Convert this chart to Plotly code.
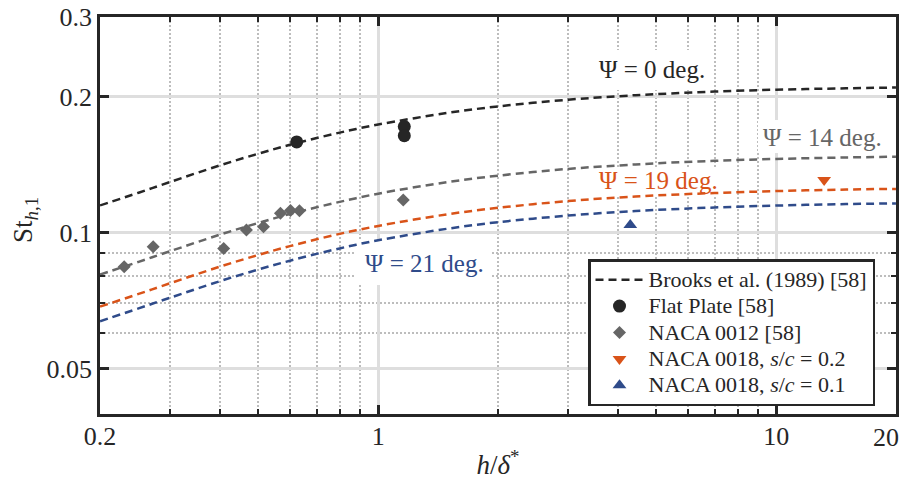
import math
import plotly.graph_objects as go

# ---- data ----
x_curve = [0.2, 0.25, 0.3, 0.4, 0.5, 0.6, 0.8, 1, 1.5, 2, 3, 4, 5, 7, 10, 15, 20]
st_psi0 = [0.1149, 0.1226, 0.1295, 0.1409, 0.1496, 0.1565, 0.1665, 0.1735, 0.1842,
           0.1903, 0.1969, 0.2004, 0.2026, 0.2052, 0.2072, 0.2087, 0.2095]
st_psi14 = [0.0808, 0.0862, 0.0910, 0.0990, 0.1051, 0.1100, 0.1170, 0.1220, 0.1295,
            0.1337, 0.1384, 0.1408, 0.1424, 0.1442, 0.1456, 0.1467, 0.1473]
st_psi19 = [0.0686, 0.0732, 0.0773, 0.0841, 0.0893, 0.0934, 0.0994, 0.1035, 0.1099,
            0.1135, 0.1175, 0.1196, 0.1209, 0.1224, 0.1236, 0.1246, 0.1250]
st_psi21 = [0.0637, 0.0680, 0.0718, 0.0781, 0.0829, 0.0867, 0.0923, 0.0962, 0.1021,
            0.1055, 0.1091, 0.1111, 0.1123, 0.1137, 0.1148, 0.1157, 0.1161]

flat_x = [0.624, 1.163, 1.163]
flat_y = [0.1588, 0.1717, 0.1639]

naca12_x = [0.230, 0.272, 0.409, 0.4665, 0.515, 0.568, 0.602, 0.634, 1.156]
naca12_y = [0.0841, 0.0931, 0.0922, 0.1014, 0.1031, 0.1104, 0.1119, 0.1118, 0.1181]

naca18_02_x = [13.2]
naca18_02_y = [0.1308]
naca18_01_x = [4.30]
naca18_01_y = [0.1040]

x_major = [0.2, 1, 10]
x_major_text = ["0.2", "1", "10"]
x_last_label = "20"      # drawn as a label at the right end so it stays inside the page
x_minor = [0.3, 0.4, 0.5, 0.6, 0.7, 0.8, 0.9, 2, 3, 4, 5, 6, 7, 8, 9]
y_major = [0.05, 0.1, 0.2, 0.3]
y_major_text = ["0.05", "0.1", "0.2", "0.3"]
y_minor = [0.06, 0.07, 0.08, 0.09]

labels = ["Ψ = 0 deg.", "Ψ = 14 deg.", "Ψ = 19 deg.", "Ψ = 21 deg."]
legend_names = ["Brooks et al. (1989) [58]", "Flat Plate [58]", "NACA 0012 [58]",
                "NACA 0018, <i>s</i>/<i>c</i> = 0.2", "NACA 0018, <i>s</i>/<i>c</i> = 0.1"]

# ---- style ----
DARK = "#262626"
GRAY = "#666666"
ORANGE = "#D95319"
BLUE = "#2F4B8A"
FONT = "Liberation Serif"
DASH = "8px,5px"

X_RANGE = [math.log10(0.19995), math.log10(20.005)]
Y_RANGE = [math.log10(0.0397), math.log10(0.3001)]

# page geometry (the page body adds an 8 px offset)
OFF = 8
W, H = 908 - OFF, 490 - OFF
P_LEFT, P_RIGHT, P_TOP, P_BOTTOM = 100, 896, 17, 414
ML, MR = P_LEFT - OFF, W - (P_RIGHT - OFF)
MT, MB = P_TOP - OFF, H - (P_BOTTOM - OFF)
PW, PH = P_RIGHT - P_LEFT, P_BOTTOM - P_TOP


def px(x):
    return (x - P_LEFT) / PW


def py(y):
    return (P_BOTTOM - y) / PH


def dx(x):
    return 10 ** (X_RANGE[0] + px(x) * (X_RANGE[1] - X_RANGE[0]))


def dy(y):
    return 10 ** (Y_RANGE[0] + py(y) * (Y_RANGE[1] - Y_RANGE[0]))


def lg(s):
    return '<span style="font-size:22px">' + s + '</span>'


fig = go.Figure()

# white boxes behind labels (above grid, below data)
boxes = [(593, 50, 711, 90), (758, 120, 888, 153), (594, 167, 723, 197), (355, 241, 492, 285)]
for (x0, y0, x1, y1) in boxes:
    fig.add_trace(go.Scatter(
        x=[dx(x0), dx(x1), dx(x1), dx(x0), dx(x0)],
        y=[dy(y0), dy(y0), dy(y1), dy(y1), dy(y0)],
        mode="lines", fill="toself", fillcolor="white", line=dict(width=0, color="white"),
        hoverinfo="skip", showlegend=False))

for ys, col, show in [(st_psi0, DARK, True), (st_psi14, GRAY, False),
                      (st_psi19, ORANGE, False), (st_psi21, BLUE, False)]:
    fig.add_trace(go.Scatter(x=x_curve, y=ys, mode="lines",
                             name=lg(legend_names[0]) if show else "", showlegend=show,
                             line=dict(color=col, width=2.5, dash=DASH), line_shape="spline"))

fig.add_trace(go.Scatter(x=flat_x, y=flat_y, mode="markers", name=lg(legend_names[1]),
                         marker=dict(symbol="circle", size=13, color=DARK)))
fig.add_trace(go.Scatter(x=naca12_x, y=naca12_y, mode="markers", name=lg(legend_names[2]),
                         marker=dict(symbol="diamond", size=10, color=GRAY)))
fig.add_trace(go.Scatter(x=naca18_02_x, y=naca18_02_y, mode="markers", name=lg(legend_names[3]),
                         marker=dict(symbol="triangle-down", size=12, color=ORANGE)))
fig.add_trace(go.Scatter(x=naca18_01_x, y=naca18_01_y, mode="markers", name=lg(legend_names[4]),
                         marker=dict(symbol="triangle-up", size=12, color=BLUE)))

centers = [(652, 70), (822, 137), (658, 180), (424, 263)]
cols = [DARK, GRAY, ORANGE, BLUE]
for txt, (cx, cy), col in zip(labels, centers, cols):
    fig.add_annotation(text=txt, xref="paper", yref="paper", x=px(cx), y=py(cy),
                       showarrow=False, font=dict(family=FONT, size=25, color=col),
                       xanchor="center", yanchor="middle")

# last x tick label, kept inside the page
fig.add_annotation(text=x_last_label, xref="paper", yref="paper", x=px(900), y=py(437),
                   showarrow=False, font=dict(family=FONT, size=26, color=DARK),
                   xanchor="right", yanchor="middle", borderpad=0)

# y-axis title as rotated text
fig.add_annotation(text="St<sub><i>h</i>,1</sub>", xref="paper", yref="paper",
                   x=px(25), y=py(220), textangle=-90, showarrow=False,
                   font=dict(family=FONT, size=27, color=DARK),
                   xanchor="center", yanchor="middle")

axis_common = dict(
    type="log", showline=True, linecolor=DARK, linewidth=2.5, mirror="ticks",
    ticks="inside", ticklen=9, tickwidth=2.5, tickcolor=DARK, automargin=False,
    showgrid=True, gridcolor="#dedede", gridwidth=2.5, zeroline=False,
    tickfont=dict(family=FONT, size=26, color=DARK), ticklabeloverflow="allow",
)

fig.update_xaxes(
    **axis_common, range=X_RANGE, ticklabelstandoff=-3,
    tickmode="array", tickvals=x_major, ticktext=x_major_text,
    minor=dict(tickmode="array", tickvals=x_minor, ticks="inside", ticklen=5,
               tickwidth=2, tickcolor=DARK, showgrid=True, gridcolor="#bdbdbd",
               gridwidth=2, griddash="2px,2px"),
    title=dict(text="<i>h</i>/<i>δ</i><sup>*</sup>", font=dict(family=FONT, size=27, color=DARK),
               standoff=6),
)
fig.update_yaxes(
    **axis_common, range=Y_RANGE, ticklabelstandoff=0,
    tickmode="array", tickvals=y_major, ticktext=y_major_text,
    minor=dict(tickmode="array", tickvals=y_minor, ticks="inside", ticklen=5,
               tickwidth=2, tickcolor=DARK, showgrid=True, gridcolor="#bdbdbd",
               gridwidth=2, griddash="2px,2px"),
)

fig.update_layout(
    width=W, height=H,
    margin=dict(l=ML, r=MR, t=MT, b=MB),
    plot_bgcolor="white", paper_bgcolor="white",
    font=dict(family=FONT, color=DARK),
    legend=dict(x=px(588), y=py(259), xanchor="left", yanchor="top",
                bgcolor="white", bordercolor=DARK, borderwidth=2.5,
                font=dict(family=FONT, size=18, color=DARK),
                itemwidth=48, tracegroupgap=0),
)

fig.write_html("out.html")
